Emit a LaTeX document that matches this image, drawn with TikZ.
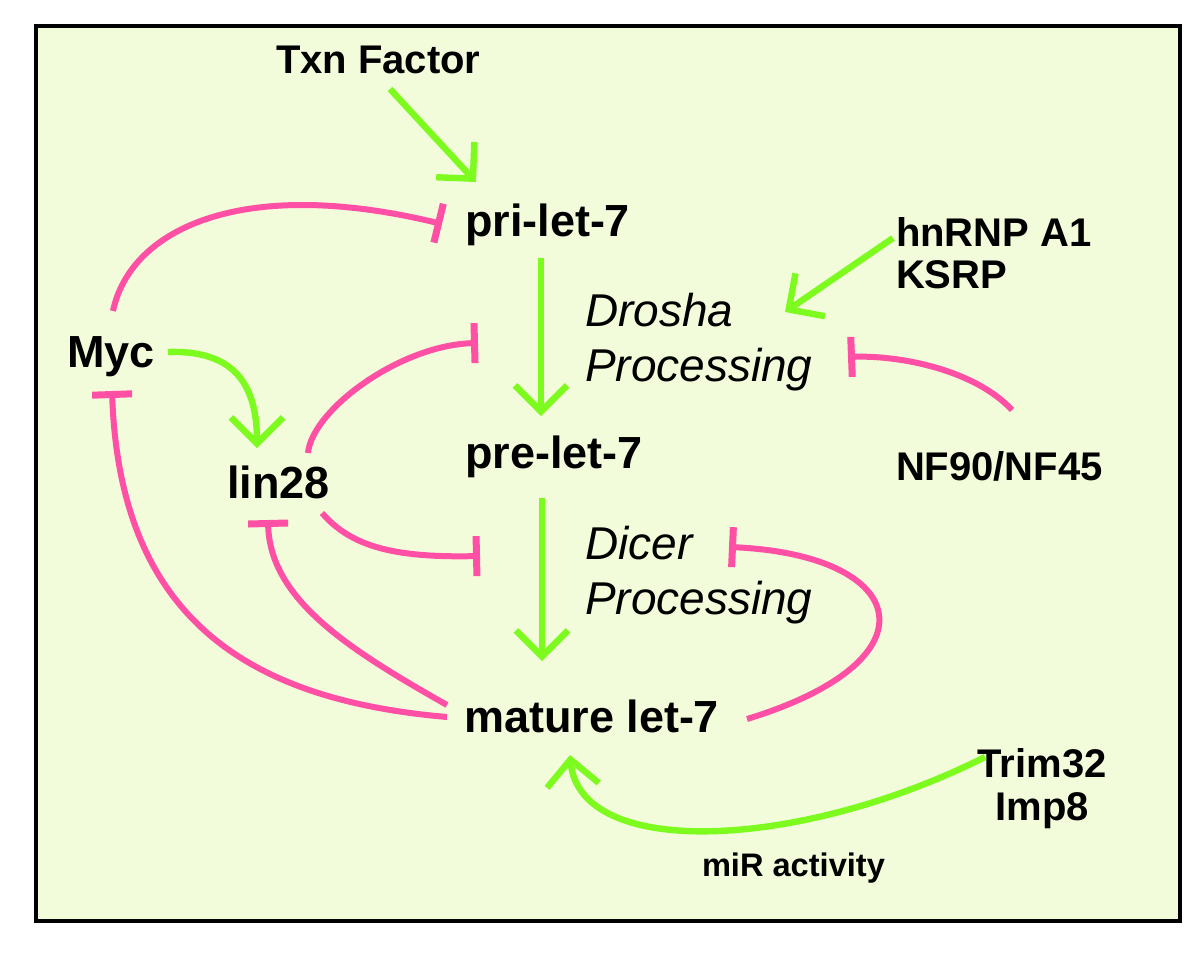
\documentclass[tikz,border=0pt]{standalone}
\usepackage{fontspec}
\setmainfont{Liberation Sans}
\usetikzlibrary{arrows.meta,calc}
\definecolor{bgc}{HTML}{F3FCDA}
\definecolor{grn}{HTML}{7DFA1E}
\definecolor{pnk}{HTML}{FF50A5}
\begin{document}
\begin{tikzpicture}[x=0.5pt,y=-0.5pt,
  lbl/.style={inner sep=0pt,outer sep=0pt,anchor=base west,font=\fontsize{22.5}{27}\selectfont\bfseries},
  small/.style={inner sep=0pt,outer sep=0pt,anchor=base west,font=\fontsize{20}{21}\selectfont\bfseries},
  proc/.style={inner sep=0pt,outer sep=0pt,anchor=base west,align=left,font=\fontsize{23}{27.5}\selectfont\itshape},
  mirl/.style={inner sep=0pt,outer sep=0pt,anchor=base west,font=\fontsize{16.3}{20}\selectfont\bfseries},
  act/.style={draw=grn,line width=3.2pt,-{Straight Barb[length=13pt,width=26pt,sharp]}},
  inh/.style={draw=pnk,line width=3pt,-{Bar[width=20pt,line width=3.5pt]}}]
\useasboundingbox (0,0) rectangle (1200,960);
\fill[white] (0,0) rectangle (1200,960);
\draw[line width=2pt,fill=bgc] (36,26) rectangle (1179.5,921);

% multi-line nodes: base anchor = baseline of last line
\node[small] (txn) at (276,73) {Txn Factor};
\node[lbl] (pri) at (465,236) {pri-let-7};
\node[small,align=left,font=\fontsize{20}{21}\selectfont\bfseries] (hn) at (896,288) {hnRNP A1\\KSRP};
\node[proc] (drosha) at (585,381) {Drosha\\Processing};
\node[lbl] (myc) at (67,367) {Myc};
\node[lbl] (pre) at (465,468) {pre-let-7};
\node[small] (nf) at (896,480) {NF90/NF45};
\node[lbl] (lin) at (227,498) {lin28};
\node[proc] (dicer) at (585,614) {Dicer\\Processing};
\node[lbl] (mature) at (464,732) {mature let-7};
\node[small,align=center,anchor=base,font=\fontsize{20}{21.5}\selectfont\bfseries] (trim) at (1042,820) {Trim32\\Imp8};
\node[mirl] (mir) at (702,876) {miR activity};

% activations
\draw[act] ($(txn.base west)+(114,16)$) -- ($(pri.base west)+(11,-54)$);
\draw[act] ($(pri.base west)+(76,22)$) -- ($(pre.base west)+(76,-52)$);
\draw[act] ($(pre.base west)+(77,30)$) -- ($(mature.base west)+(78,-71)$);
\draw[act] ($(hn.base west)+(-3,-50)$) -- ($(drosha.base west)+(200,-69)$);
\draw[act] ($(myc.base west)+(101,-15)$) .. controls (230,350) and (257,380) .. ($(lin.base west)+(30,-50)$);
\draw[act] ($(trim.base)+(-57,-63)$) .. controls (800,850) and (580,860) .. ($(mature.base west)+(106,23)$);

% inhibitions
\draw[inh] ($(nf.base west)+(116,-70)$) .. controls (975,370) and (900,355) .. ($(drosha.base west)+(263,-24)$);
\draw[inh] ($(myc.base west)+(46,-56)$) .. controls (130,230) and (240,175) .. ($(pri.base west)+(-23,-12)$);
\draw[inh] ($(lin.base west)+(81,-45)$) .. controls (312,410) and (400,345) .. ($(drosha.base west)+(-107,-38)$);
\draw[inh] ($(lin.base west)+(95,15)$) .. controls (350,545) and (390,558) .. ($(dicer.base west)+(-105,-58)$);
\draw[inh] ($(mature.base west)+(283,-13)$) .. controls (940,660) and (910,555) .. ($(dicer.base west)+(144,-67)$);
\draw[inh] ($(mature.base west)+(-17,-27)$) .. controls (350,650) and (270,600) .. ($(lin.base west)+(41,22)$);
\draw[inh] ($(mature.base west)+(-17,-15)$) .. controls (250,700) and (120,620) .. ($(myc.base west)+(45,24)$);
\end{tikzpicture}
\end{document}
